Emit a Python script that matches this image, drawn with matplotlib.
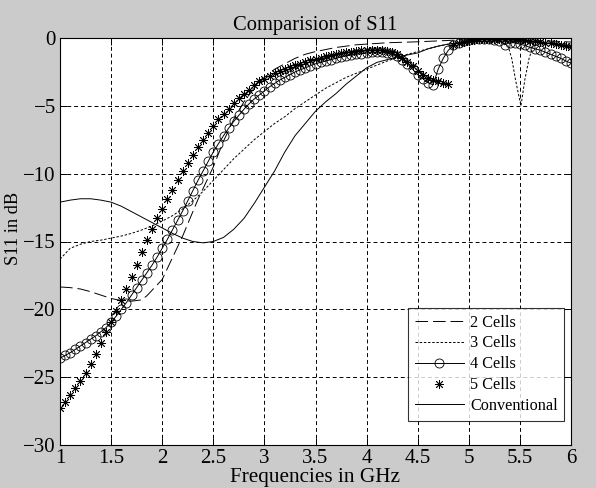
import numpy as np
import matplotlib
matplotlib.use("Agg")
import matplotlib.pyplot as plt

# ---- data ----
title = "Comparision of S11"
xlabel = "Frequencies in GHz"
ylabel = "S11 in dB"
labels = ["2 Cells", "3 Cells", "4 Cells", "5 Cells", "Conventional"]

# 2 Cells (long dash)
f2 = [1.0, 1.1, 1.2, 1.3, 1.4, 1.5, 1.6, 1.7, 1.8, 1.85, 1.9, 2.0, 2.05, 2.1, 2.15, 2.2,
      2.25, 2.3, 2.35, 2.4, 2.45, 2.5, 2.6, 2.7, 2.8, 2.9, 3.0, 3.1, 3.2, 3.3, 3.4, 3.5,
      3.7, 3.9, 4.2, 4.5, 4.8, 5.0, 5.5, 6.0]
s2 = [-18.35, -18.4, -18.5, -18.7, -18.95, -19.2, -19.35, -19.4, -19.3, -19.0, -18.6, -17.8,
      -17.0, -16.2, -15.4, -14.6, -13.7, -12.8, -11.9, -11.1, -10.3, -9.5, -7.6, -6.0, -4.7,
      -3.7, -2.9, -2.3, -1.9, -1.5, -1.2, -1.0, -0.7, -0.5, -0.35, -0.28, -0.18, -0.12, -0.1, -0.3]

# 3 Cells (short dash)
f3 = [1.0, 1.1, 1.2, 1.3, 1.4, 1.5, 1.6, 1.7, 1.8, 1.9, 2.0, 2.1, 2.2, 2.3, 2.4, 2.5, 2.6,
      2.7, 2.8, 2.9, 3.0, 3.1, 3.2, 3.3, 3.4, 3.5, 3.6, 3.7, 3.8, 3.9, 4.0, 4.1, 4.2, 4.3,
      4.4, 4.5, 4.6, 4.7, 4.8, 5.0, 5.2, 5.3, 5.38, 5.42, 5.46, 5.51, 5.55, 5.59, 5.63,
      5.7, 5.8, 6.0]
s3 = [-16.3, -15.5, -15.2, -15.0, -14.9, -14.75, -14.6, -14.4, -14.15, -13.85, -13.5, -13.1,
      -12.6, -12.0, -11.3, -10.5, -9.7, -8.9, -8.2, -7.5, -6.9, -6.3, -5.8, -5.2, -4.7,
      -4.2, -3.7, -3.3, -2.9, -2.6, -2.3, -2.0, -1.7, -1.45, -1.2, -1.0, -0.8, -0.6,
      -0.45, -0.3, -0.2, -0.25, -0.5, -1.5, -3.2, -5.0, -3.0, -1.5, -0.6, -0.4, -0.35, -0.45]

# 4 Cells (line + open circles) and 5 Cells (asterisks) on a 0.05 GHz grid
f45 = np.round(np.linspace(1.0, 6.0, 101), 2)
s4 = [-23.6, -23.4, -23.2, -22.95, -22.7, -22.45, -22.2, -21.95, -21.65, -21.35,
      -20.95, -20.5, -20.0, -19.5, -18.95, -18.4, -17.85, -17.3, -16.75, -16.15,
      -15.5, -14.85, -14.15, -13.45, -12.75, -12.0, -11.25, -10.5, -9.8, -9.1,
      -8.4, -7.8, -7.2, -6.65, -6.15, -5.7, -5.25, -4.85, -4.5, -4.2,
      -3.9, -3.6, -3.35, -3.1, -2.9, -2.7, -2.5, -2.35, -2.2, -2.05,
      -1.9, -1.8, -1.7, -1.6, -1.5, -1.4, -1.3, -1.25, -1.2, -1.15,
      -1.1, -1.05, -1.05, -1.05, -1.1, -1.2, -1.35, -1.6, -1.9, -2.3,
      -2.7, -3.0, -3.3, -3.45, -2.3, -1.5, -0.9, -0.55, -0.35, -0.25,
      -0.15, -0.1, -0.1, -0.1, -0.1, -0.15, -0.2, -0.5, -0.35, -0.35,
      -0.45, -0.55, -0.7, -0.8, -0.9, -1.05, -1.2, -1.35, -1.5, -1.7, -1.85]
s5 = [-27.3, -26.8, -26.3, -25.8, -25.3, -24.7, -24.0, -23.3, -22.5, -21.7,
      -20.9, -20.1, -19.3, -18.5, -17.6, -16.7, -15.8, -14.9, -14.1, -13.3,
      -12.6, -11.9, -11.2, -10.5, -9.8, -9.2, -8.6, -8.0, -7.5, -7.0,
      -6.5, -6.0, -5.6, -5.2, -4.8, -4.4, -4.1, -3.8, -3.5, -3.2,
      -3.0, -2.8, -2.6, -2.45, -2.3, -2.15, -2.0, -1.9, -1.75, -1.65,
      -1.55, -1.45, -1.35, -1.25, -1.2, -1.1, -1.05, -1.0, -0.95, -0.9,
      -0.85, -0.85, -0.85, -0.9, -0.95, -1.05, -1.2, -1.45, -1.75, -2.1,
      -2.45, -2.75, -2.95, -3.1, -3.2, -3.3, -3.4, -0.55, -0.4, -0.3,
      -0.2, -0.15, -0.1, -0.1, -0.1, -0.1, -0.1, -0.1, -0.1, -0.1,
      -0.15, -0.15, -0.2, -0.25, -0.3, -0.35, -0.4, -0.45, -0.5, -0.6, -0.7]

# Conventional (solid)
fc = [1.0, 1.1, 1.2, 1.3, 1.4, 1.5, 1.6, 1.7, 1.8, 1.9, 2.0, 2.1, 2.2, 2.3, 2.4, 2.5, 2.6,
      2.7, 2.8, 2.9, 3.0, 3.1, 3.2, 3.3, 3.4, 3.5, 3.6, 3.7, 3.8, 3.9, 4.0, 4.1, 4.2, 4.3,
      4.4, 4.5, 4.6, 4.7, 4.8, 4.9, 5.0, 5.3, 5.6, 6.0]
sc = [-12.1, -11.95, -11.85, -11.85, -11.95, -12.1, -12.4, -12.8, -13.2, -13.6, -14.0,
      -14.4, -14.75, -15.0, -15.1, -15.0, -14.7, -14.1, -13.3, -12.2, -11.0, -9.8, -8.4,
      -7.2, -6.3, -5.4, -4.7, -4.1, -3.4, -2.8, -2.2, -1.8, -1.6, -1.4, -1.25, -1.1,
      -0.8, -0.6, -0.45, -0.35, -0.25, -0.2, -0.3, -0.55]

xticks = [1, 1.5, 2, 2.5, 3, 3.5, 4, 4.5, 5, 5.5, 6]
xticklabels = ["1", "1.5", "2", "2.5", "3", "3.5", "4", "4.5", "5", "5.5", "6"]
yticks = [0, -5, -10, -15, -20, -25, -30]
yticklabels = ["0", "\u22125", "\u221210", "\u221215", "\u221220", "\u221225", "\u221230"]

# ---- plot ----
plt.rcParams['font.family'] = ['Liberation Serif', 'DejaVu Serif']

fig = plt.figure(figsize=(5.96, 4.88), dpi=100, facecolor='#cbcbcb')
ax = fig.add_axes([60/596, 1 - 445/488, 511/596, 407/488])
ax.set_facecolor('white')

lw = 0.7
ax.plot(f2, s2, color='black', lw=lw, linestyle=(0, (13, 5)), label=labels[0])
ax.plot(f3, s3, color='black', lw=lw, linestyle=(0, (2.5, 1.8)), label=labels[1])
ax.plot(f45, s4, color='black', lw=lw, marker='o', markersize=6.5, markerfacecolor='none',
        markeredgewidth=0.6, label=labels[2])
ax.plot(f45, s5, color='black', lw=0, linestyle='none', marker=(8, 2, 0), markersize=6.5,
        markeredgewidth=0.6, label=labels[3])
ax.plot(fc, sc, color='black', lw=lw, linestyle='-', label=labels[4])

ax.set_xlim(1, 6)
ax.set_ylim(-30, 0)
ax.set_xticks(xticks)
ax.set_xticklabels(xticklabels)
ax.set_yticks(yticks)
ax.set_yticklabels(yticklabels)
ax.tick_params(direction='in', length=5, width=0.7, labelsize=15, top=True, right=True,
               colors='black', pad=3)
ax.grid(True, color='black', linestyle=(0, (4, 3)), linewidth=0.7)
for sp in ax.spines.values():
    sp.set_linewidth(0.8)

ax.set_title(title, fontsize=14.8, pad=6)
ax.set_xlabel(xlabel, fontsize=15.3, labelpad=0)
ax.set_ylabel(ylabel, fontsize=13.2)
ax.yaxis.set_label_coords(-0.074, 0.533)

leg = ax.legend(loc='lower right', bbox_to_anchor=(0.987, 0.06), borderaxespad=0,
                fontsize=11.7, frameon=True, fancybox=False, edgecolor='black',
                handlelength=3.0, labelspacing=0.3, handletextpad=0.4, borderpad=0.4,
                markerscale=1.0, numpoints=1)
leg.get_frame().set_linewidth(0.8)

fig.savefig("out.png", dpi=100, facecolor=fig.get_facecolor())
